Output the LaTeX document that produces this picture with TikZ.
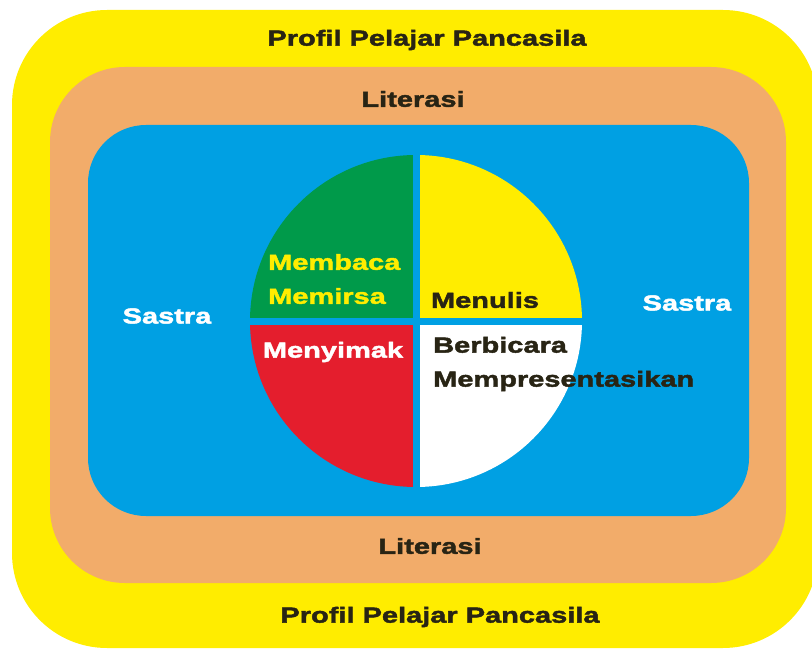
\documentclass[tikz,border=0pt]{standalone}
\usepackage{fontspec}
\newfontfamily\widefont{Liberation Sans}[FakeStretch=1.33,FakeBold=2]
\usetikzlibrary{positioning}

\definecolor{profilyellow}{RGB}{255,237,0}
\definecolor{literasiorange}{RGB}{242,172,106}
\definecolor{sastrablue}{RGB}{0,160,227}
\definecolor{bacagreen}{RGB}{0,154,74}
\definecolor{simakred}{RGB}{228,30,45}
\definecolor{inkdark}{RGB}{40,36,20}

\tikzset{
  ringlabel/.style={font=\widefont\bfseries\fontsize{21.8}{34}\selectfont, text=inkdark, inner sep=0pt},
  skilllabel/.style={ringlabel, align=left},
}

\begin{document}
\begin{tikzpicture}[x=1pt,y=-1pt]

\useasboundingbox (0,0) rectangle (812,650);

\fill[profilyellow, rounded corners=95pt] (12,10) rectangle (818,648);
\fill[literasiorange, rounded corners=75pt] (50,67) rectangle (786,583);
\fill[sastrablue, rounded corners=58pt] (88,125) rectangle (749,516);

\coordinate (ctr) at (416,321);
\begin{scope}
\clip (ctr) circle[radius=166];
\fill[bacagreen] ([shift={(-3.5,-3.5)}]ctr) rectangle ++(-180,-180);
\fill[profilyellow] ([shift={(3.5,-3.5)}]ctr) rectangle ++(180,-180);
\fill[simakred] ([shift={(-3.5,3.5)}]ctr) rectangle ++(-180,180);
\fill[white] ([shift={(3.5,3.5)}]ctr) rectangle ++(180,180);
\end{scope}

\node[ringlabel] (profiltop) at (427,40) {Profil Pelajar Pancasila};
\node[ringlabel] (profilbot) at (440,617) {Profil Pelajar Pancasila};
\node[ringlabel] (literasitop) at (413,99) {Literasi};
\node[ringlabel] (literasibot) at (430,546) {Literasi};
\node[ringlabel, text=white] (sastraleft) at (167,316) {Sastra};
\node[ringlabel, text=white] (sastraright) at (687,303) {Sastra};

\node[skilllabel, text=profilyellow, anchor=west] (membaca) at (268,279) {Membaca\\Memirsa};
\node[skilllabel] (menulis) at (485,300) {Menulis};
\node[skilllabel, text=white] (menyimak) at (333,352) {Menyimak};
\node[skilllabel, anchor=west] (berbicara) at (433,364) {Berbicara\\Mempresentasikan};

\end{tikzpicture}
\end{document}
